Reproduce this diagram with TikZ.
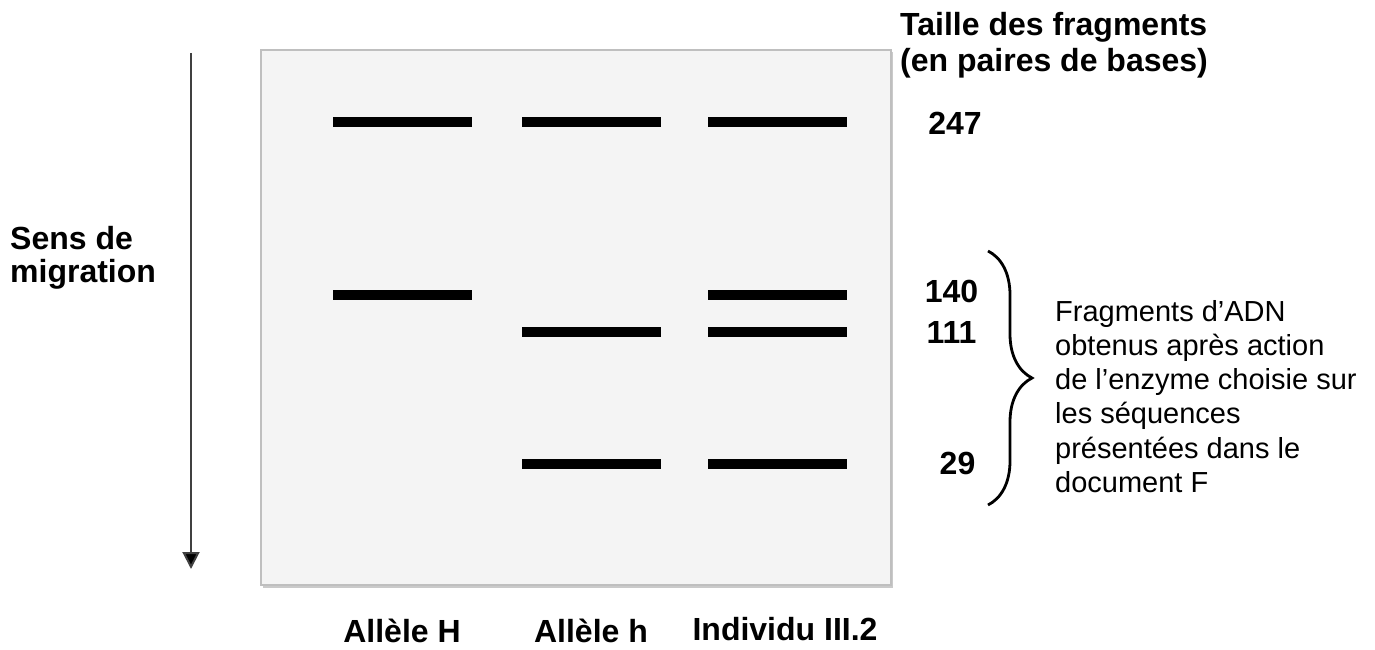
\documentclass[tikz,border=0pt]{standalone}
\usepackage{fontspec}
\setmainfont{Liberation Sans}
\usetikzlibrary{arrows.meta,decorations.pathreplacing,shadows}

\begin{document}
\begin{tikzpicture}[x=1pt,y=-1pt,
  gelbox/.style={draw=black!25, line width=1.5pt, fill=black!4.5,
    minimum width=630pt, minimum height=535pt, inner sep=0pt,
    drop shadow={shadow xshift=2pt, shadow yshift=-2.5pt, fill=black!35, opacity=0.6}},
  band/.style={fill=black, minimum width=139pt, minimum height=10pt, inner sep=0pt},
  boldtxt/.style={font=\fontsize{32}{34}\selectfont\bfseries, inner sep=0pt},
  plaintxt/.style={font=\fontsize{29}{34.2}\selectfont, inner sep=0pt},
  sizelbl/.style={boldtxt, anchor=center},
  lanelbl/.style={boldtxt, anchor=base}]
\useasboundingbox (0,0) rectangle (1375,650);

% gel
\node[gelbox] (gel) at (576,317.5) {};

% bands: lane 1 (H), lane 2 (h), lane 3 (III.2)
\node[band] (H247) at (402.5,122) {};
\node[band] (H140) at (402.5,295) {};
\node[band] (h247) at (591.5,122) {};
\node[band] (h111) at (591.5,332) {};
\node[band] (h29)  at (591.5,464) {};
\node[band] (I247) at (777.5,122) {};
\node[band] (I140) at (777.5,295) {};
\node[band] (I111) at (777.5,332) {};
\node[band] (I29)  at (777.5,464) {};

% migration direction
\coordinate (atop) at (191,53);
\coordinate (abot) at (191,569);
\draw[line width=2pt, draw=black!75,
  -{Triangle[width=17pt,length=17pt,fill=black]}] (atop) -- (abot);
\node[boldtxt, font=\fontsize{32}{33}\selectfont\bfseries, anchor=north west, align=left]
  (sens) at (10,226) {Sens de\\migration};

% fragment sizes
\node[boldtxt, font=\fontsize{32}{36}\selectfont\bfseries, anchor=north west, align=left]
  (titre) at (900,12) {Taille des fragments\\(en paires de bases)};
\node[sizelbl] (s247) at (955,123) {247};
\node[sizelbl] (s140) at (951.5,291.5) {140};
\node[sizelbl] (s111) at (951.5,332) {111};
\node[sizelbl] (s29)  at (957.5,463) {29};

% brace and its legend
\coordinate (btop) at (988,251);
\coordinate (bbot) at (988,505);
\draw[line width=2.8pt, decorate, decoration={brace, amplitude=44pt}] (btop) -- (bbot);
\node[plaintxt, anchor=north west, align=left] (legende) at (1055,300)
  {Fragments d’ADN\\obtenus après action\\de l’enzyme choisie sur\\les séquences\\présentées dans le\\document F};

% lane labels
\node[lanelbl] (lH) at (402,642) {Allèle H};
\node[lanelbl] (lh) at (591,642) {Allèle h};
\node[lanelbl] (lI) at (785,640) {Individu III.2};
\end{tikzpicture}
\end{document}
